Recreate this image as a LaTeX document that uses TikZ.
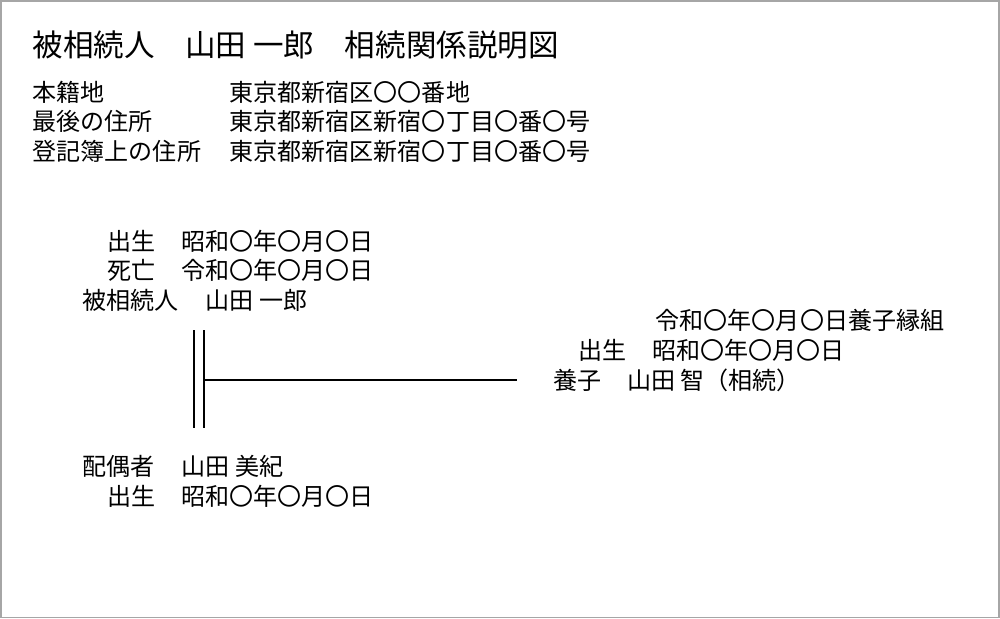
\documentclass[tikz,border=0pt]{standalone}
\usepackage{fontspec}
\setmainfont{Noto Sans CJK JP}
\begin{document}
\begin{tikzpicture}[x=0.02cm,y=-0.02cm,
  t/.style={anchor=west,inner sep=0pt,font=\fontsize{13.7pt}{15pt}\selectfont},
  tt/.style={anchor=west,inner sep=0pt,font=\fontsize{17.4pt}{19pt}\selectfont},
  tr/.style={anchor=east,inner sep=0pt,font=\fontsize{13.7pt}{15pt}\selectfont},
  ln/.style={line width=1.3pt}]
\draw[fill=white,draw=gray!70,line width=1pt] (0.5,0.5) rectangle (999.5,617.5);
\node[tt] (title) at (32,45) {被相続人　山田 一郎　相続関係説明図};
\node[t] (k1) at (32,92) {本籍地};
\node[t] (v1) at (229,92) {東京都新宿区〇〇番地};
\node[t] (k2) at (32,121) {最後の住所};
\node[t] (v2) at (229,121) {東京都新宿区新宿〇丁目〇番〇号};
\node[t] (k3) at (32,151) {登記簿上の住所};
\node[t] (v3) at (229,151) {東京都新宿区新宿〇丁目〇番〇号};
\node[t] (a1) at (107,241) {出生};
\node[t] (a2) at (181,241) {昭和〇年〇月〇日};
\node[t] (b1) at (107,270) {死亡};
\node[t] (b2) at (181,270) {令和〇年〇月〇日};
\node[t] (c1) at (82,300) {被相続人};
\node[t] (c2) at (205,300) {山田 一郎};
\node[tr] (r1) at (945,320) {令和〇年〇月〇日養子縁組};
\node[t] (r2) at (578,350) {出生};
\node[t] (r3) at (652,350) {昭和〇年〇月〇日};
\node[t] (r4) at (553,380) {養子};
\node[t] (r5) at (627,380) {山田 智（相続）};
\node[t] (s1) at (82,466) {配偶者};
\node[t] (s2) at (181,466) {山田 美紀};
\node[t] (d1) at (107,496) {出生};
\node[t] (d2) at (181,496) {昭和〇年〇月〇日};
\coordinate (m1) at (194,330); \coordinate (m2) at (194,428);
\coordinate (n1) at (204,330); \coordinate (n2) at (204,428);
\coordinate (h1) at (204,380); \coordinate (h2) at (517,380);
\draw[ln] (m1) -- (m2);
\draw[ln] (n1) -- (n2);
\draw[ln] (h1) -- (h2);
\end{tikzpicture}
\end{document}
